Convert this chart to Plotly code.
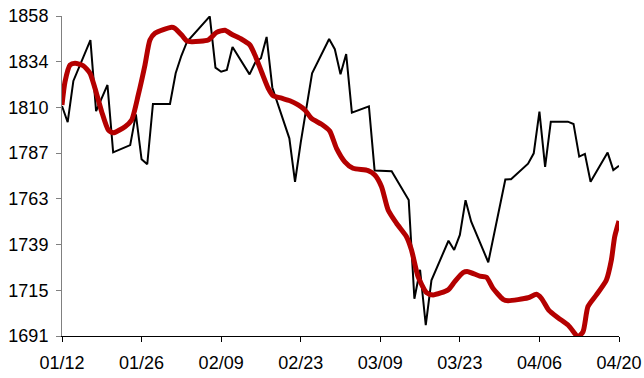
import pandas as pd
import plotly.graph_objects as go

# Black series (daily closes)
black_dates = ["2022-01-12","2022-01-13","2022-01-14","2022-01-17","2022-01-18","2022-01-20","2022-01-21",
               "2022-01-24","2022-01-25","2022-01-26","2022-01-27","2022-01-28","2022-01-31","2022-02-01",
               "2022-02-02","2022-02-03","2022-02-07","2022-02-08","2022-02-09","2022-02-10","2022-02-11",
               "2022-02-14","2022-02-15","2022-02-16","2022-02-17","2022-02-18","2022-02-21","2022-02-22",
               "2022-02-23","2022-02-25","2022-02-28","2022-03-01","2022-03-02","2022-03-03","2022-03-04",
               "2022-03-07","2022-03-08","2022-03-11","2022-03-14","2022-03-15","2022-03-16","2022-03-17",
               "2022-03-18","2022-03-21","2022-03-22","2022-03-23","2022-03-24","2022-03-25","2022-03-28",
               "2022-03-31","2022-04-01","2022-04-04","2022-04-05","2022-04-06","2022-04-07","2022-04-08",
               "2022-04-11","2022-04-12","2022-04-13","2022-04-14","2022-04-15","2022-04-18","2022-04-19",
               "2022-04-20"]
black_values = [1811.1,1802.7,1824.2,1845.4,1808.5,1822.1,1787.0,
                1790.8,1806.8,1783.4,1780.8,1812.2,1812.2,1828.2,
                1837.3,1844.6,1857.8,1831.1,1829.0,1829.9,1841.9,
                1827.6,1833.8,1836.0,1847.1,1820.8,1794.3,1771.7,
                1792.1,1828.2,1846.0,1840.7,1827.7,1838.2,1807.7,
                1811.0,1777.6,1777.2,1762.2,1710.8,1725.9,1697.0,
                1720.4,1741.0,1736.2,1744.0,1762.1,1750.9,1729.8,
                1772.9,1773.0,1781.1,1786.5,1808.2,1779.5,1803.0,
                1803.0,1801.8,1784.8,1786.2,1771.7,1786.9,1777.8,
                1780.0]

# Red smoothed series: day offsets from 2022-01-12 and values
red_start = "2022-01-12"
red_days = [0,0.53,1.41,2.29,3.75,4.92,5.8,6.98,8.14,9.02,11.08,12.26,13.42,14.6,15.47,16.35,
            19.29,19.87,21.05,21.93,22.81,25.73,27.2,28.66,29.84,31.6,33.06,33.94,35.1,36.28,
            37.16,38.63,40.1,41.55,42.73,43.9,45.67,47.1,48.3,49.76,51.2,53.86,55.04,56.22,
            57.38,58.85,60.61,61.49,62.65,64.13,65.29,67.93,69.1,70.56,71.44,73.5,74.68,75.84,
            77.6,78.48,82.0,83.47,84.35,85.63,87.27,89.03,90.2,90.73,91.67,92.54,94.02,95.78,
            96.66,97.24,98.0]
red_values = [1811.7,1823.8,1832.5,1833.4,1832.1,1828.2,1820.4,1808.2,1798.7,1797.2,1800.4,1803.9,
              1816.9,1832.5,1845.5,1849.0,1852.1,1851.6,1848.1,1845.1,1844.6,1845.5,1849.5,1850.6,
              1848.5,1845.9,1842.9,1837.7,1829.0,1820.4,1816.5,1815.2,1813.9,1811.7,1809.1,1804.7,
              1801.6,1798.1,1789.1,1782.1,1778.7,1777.5,1775.2,1769.1,1757.0,1750.1,1743.1,1736.2,
              1722.3,1714.0,1712.8,1715.4,1719.7,1724.4,1724.9,1722.6,1722.0,1716.2,1710.5,1709.8,
              1711.3,1713.1,1711.0,1704.9,1700.9,1697.1,1692.8,1690.9,1693.6,1706.7,1712.8,1720.6,
              1731.0,1743.1,1751.3]

# Axes
y_min, y_max = 1691.4, 1858.0
y_tick_text = ["1691","1715","1739","1763","1787","1810","1834","1858"]
x_tick_dates = ["2022-01-12","2022-01-26","2022-02-09","2022-02-23","2022-03-09","2022-03-23","2022-04-06","2022-04-20"]
x_tick_text = ["01/12","01/26","02/09","02/23","03/09","03/23","04/06","04/20"]

red_dates = [pd.Timestamp(red_start) + pd.Timedelta(days=d) for d in red_days]
n = len(y_tick_text)
y_tick_vals = [y_min + (y_max - y_min) * i / (n - 1) for i in range(n)]

fig = go.Figure()
fig.add_trace(go.Scatter(x=pd.to_datetime(black_dates), y=black_values, mode="lines",
                         line=dict(color="#000000", width=2), showlegend=False))
fig.add_trace(go.Scatter(x=red_dates, y=red_values, mode="lines",
                         line=dict(color="#B40000", width=5, shape="spline", smoothing=0.6),
                         showlegend=False))

fig.update_layout(
    width=644, height=378,
    margin=dict(l=62, r=25, t=16, b=42),
    paper_bgcolor="white", plot_bgcolor="white",
    font=dict(family="Liberation Sans, Arial, sans-serif", size=18, color="#000000"),
)
fig.update_xaxes(
    range=[pd.Timestamp(x_tick_dates[0]), pd.Timestamp(x_tick_dates[-1])],
    tickvals=pd.to_datetime(x_tick_dates), ticktext=x_tick_text, automargin=False,
    showgrid=False, zeroline=False, showline=True, linecolor="#000000", linewidth=1,
    ticks="outside", ticklen=5, tickcolor="#000000", tickfont=dict(size=18),
    ticklabelstandoff=5,
)
fig.update_yaxes(
    range=[y_min, y_max], tickvals=y_tick_vals, ticktext=y_tick_text, automargin=False,
    showgrid=False, zeroline=False, showline=True, linecolor="#808080", linewidth=1,
    ticks="outside", ticklen=5, tickcolor="#808080", tickfont=dict(size=18),
    ticklabelstandoff=4,
)

# remove the browser's default 8px body margin so the 644x378 figure fills the window
fig.write_html("out.html", config={"displayModeBar": False},
               post_script="document.body.style.margin='0';")
